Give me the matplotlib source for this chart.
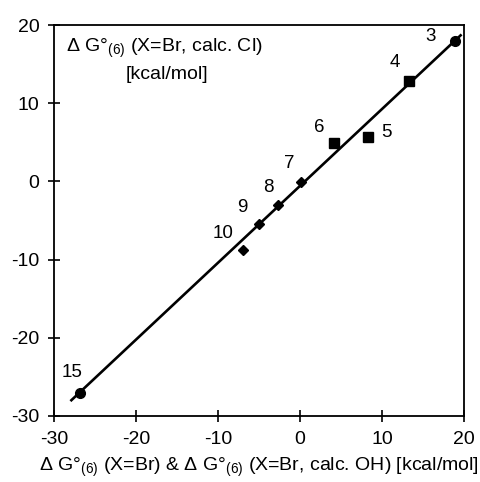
import matplotlib
matplotlib.use("Agg")
import matplotlib.pyplot as plt

plt.rcParams.update({
    "font.family": "Liberation Sans",
    "font.size": 14,
    "axes.unicode_minus": False,
    "mathtext.fontset": "custom",
    "mathtext.rm": "Liberation Sans",
    "mathtext.it": "Liberation Sans:italic",
})

labels = ["3", "4", "5", "6", "7", "8", "9", "10", "15"]
x_val = [18.9, 13.3, 8.25, 4.1, 0.1, -2.7, -5.0, -6.9, -26.8]
y_val = [18.0, 12.9, 5.7, 4.9, -0.1, -3.0, -5.5, -8.8, -27.1]
marker = ["o", "s", "s", "s", "D", "D", "D", "D", "o"]
lab_x = [15.9, 11.6, 10.6, 2.4, -1.3, -3.9, -7.0, -9.4, -27.8]
lab_y = [18.6, 15.2, 6.2, 6.9, 2.3, -0.8, -3.3, -6.6, -24.5]

fit_x = [-28.0, 19.7]
fit_y = [-28.1, 18.8]

fig = plt.figure(figsize=(4.81, 4.82), dpi=100)
ax = fig.add_axes([0.1123, 0.137, 0.8524, 0.811])

ax.plot(fit_x, fit_y, color="black", lw=1.9, solid_capstyle="butt", zorder=2)
for xv, yv, m in zip(x_val, y_val, marker):
    ms = {"o": 7, "s": 6.5, "D": 5.2}[m]
    ax.plot(xv, yv, marker=m, ms=ms, color="black", ls="none", zorder=3)
for t, lx, ly in zip(labels, lab_x, lab_y):
    ax.text(lx, ly, t, ha="center", va="center", fontsize=13.5)

ax.set_xlim(-30, 20)
ax.set_ylim(-30, 20)
ax.set_xticks([-30, -20, -10, 0, 10, 20])
ax.set_yticks([-30, -20, -10, 0, 10, 20])
ax.tick_params(direction="inout", length=9, width=1.2, labelsize=14)
ax.tick_params(axis="x", pad=6)
ax.tick_params(axis="y", pad=6)
for s in ax.spines.values():
    s.set_linewidth(1.3)

ax.text(0.03, 0.94, r"$\Delta$ G°$_{\mathrm{(6)}}$ (X=Br, calc. Cl)", transform=ax.transAxes,
        ha="left", va="center", fontsize=14)
ax.text(0.275, 0.874, "[kcal/mol]", transform=ax.transAxes, ha="center", va="center", fontsize=14)
ax.set_xlabel(r"$\Delta$ G°$_{\mathrm{(6)}}$ (X=Br) & $\Delta$ G°$_{\mathrm{(6)}}$ (X=Br, calc. OH) [kcal/mol]",
              fontsize=14, labelpad=6)

fig.savefig("out.png", dpi=100)
